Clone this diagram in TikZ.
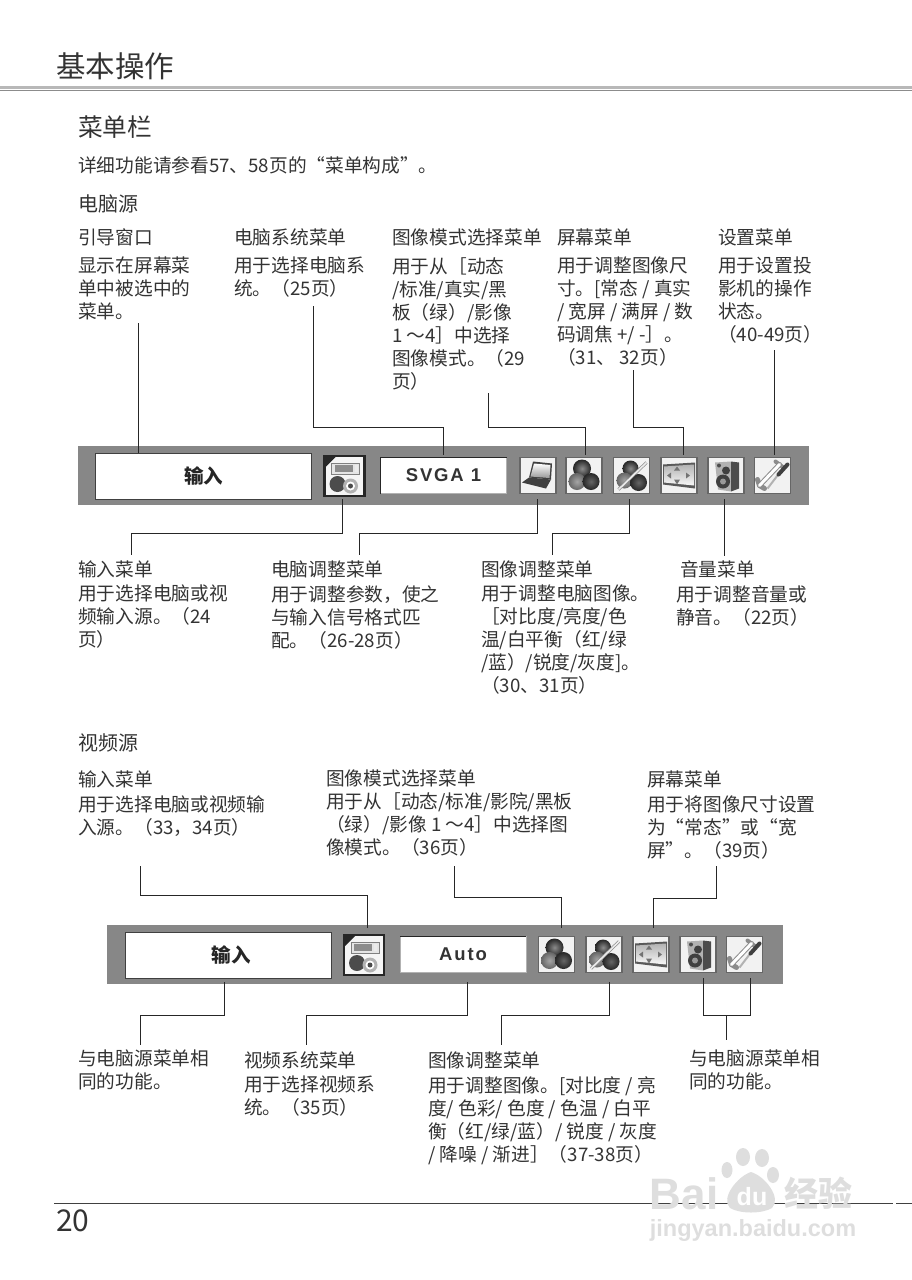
\documentclass[tikz,border=0pt]{standalone}
\usepackage{fontspec}
\setmainfont{Noto Sans CJK SC}
\newfontfamily\barfont[LetterSpace=10]{Liberation Sans}
\newfontfamily\markfont{Liberation Sans}

\definecolor{ink}{gray}{0.2}
\definecolor{barcol}{gray}{0.53}
\definecolor{markcol}{gray}{0.87}

\tikzset{
  txt/.style={anchor=north west,inner sep=0pt,yshift=9pt,align=left,text=ink,
    font=\fontsize{18.7}{23}\selectfont,execute at begin node=\strut},
  whitebox/.style={fill=white,draw=black!75,line width=1pt,inner sep=0pt,
    minimum width=#1,minimum height=46pt,font=\fontsize{19.5}{20}\selectfont\bfseries,text=black!85,outer sep=0pt},
  valuebox/.style={fill=white,draw=gray!60,line width=1pt,inner sep=0pt,outer sep=0pt,
    minimum width=126pt,minimum height=36pt,font=\fontsize{18.5}{20}\selectfont\barfont\bfseries,text=black!80},
  iconbox/.style={fill=black!5,draw=black!60,line width=1.5pt,inner sep=0pt,outer sep=3pt,
    minimum width=36pt,minimum height=36pt},
  inbox/.style={fill=black!4,draw=black!85,line width=2.5pt,inner sep=0pt,outer sep=3pt,
    minimum width=40pt,minimum height=40pt},
  conn/.style={draw=black!85,line width=0.8pt},
  softball/.style={shading=radial,inner color=black!#1,outer color=black!85},
  pics/ballsicon/.style={code={
    \shade[softball=45] (-2,-7) circle (9pt);
    \shade[inner color=black!35,outer color=black!60] (-7,6) circle (8.5pt);
    \shade[softball=60] (7,6) circle (8.5pt);
  }},
  pics/slashicon/.style={code={
    \shade[softball=45] (-1,-7) circle (8pt);
    \shade[inner color=black!35,outer color=black!60] (-7,5) circle (8pt);
    \shade[softball=60] (7,7) circle (8.5pt);
    \draw[black!45,line width=3pt] (-13,14) -- (15,-13);
    \draw[black!8,line width=1.6pt] (-13,14) -- (15,-13);
  }},
  pics/laptopicon/.style={code={
    \fill[black!75] (-5,-14) -- (14,-12) -- (13,4) -- (-9,2) -- cycle;
    \shade[top color=white,bottom color=black!40] (-4,-12) -- (12.5,-10.5) -- (11.5,2.5) -- (-7.5,1) -- cycle;
    \fill[black!75] (-9,2) -- (13,4) -- (8,13) -- (-16,7) -- cycle;
  }},
  pics/screenicon/.style={code={
    \fill[black!65] (-16,-11) -- (16,-13) -- (16,13) -- (-16,9) -- cycle;
    \shade[top color=black!30,bottom color=black!3] (-15,-9) -- (15,-11) -- (15,10) -- (-15,7) -- cycle;
    \fill[black!55] (-2,-9) -- (-5,-5) -- (1,-5) -- cycle;
    \fill[black!55] (-2,9) -- (-5,4) -- (1,4) -- cycle;
    \fill[black!55] (-12,0) -- (-8,-3) -- (-8,3) -- cycle;
    \fill[black!55] (11,0) -- (7,-3) -- (7,3) -- cycle;
  }},
  pics/speakericon/.style={code={
    \fill[black!30] (-11,-13) -- (5,-14) -- (5,16) -- (-8,14) -- cycle;
    \fill[black!70] (5,-14) -- (13,-13) -- (13,13) -- (5,16) -- cycle;
    \fill[black!70] (-7,-10) circle (2pt);
    \fill[black!75] (0,-5) circle (4pt);
    \fill[black!75] (-3,6) circle (7pt);
    \fill[black!40] (-3,6) circle (3pt);
  }},
  pics/wrenchicon/.style={code={
    \draw[black!45,line width=5pt,line cap=round] (-13,10) -- (7,-11);
    \draw[black!45,line width=5pt,line cap=round] (-13,10) -- (-15,4) (-13,10) -- (-8,13);
    \draw[black!45,line width=4pt,line cap=round] (7,-11) -- (3,-14) (7,-11) -- (11,-8);
    \draw[white,line width=3pt,line cap=round] (-13,10) -- (7,-11);
    \draw[black!30,line width=2pt] (-5,13) -- (5,0);
    \draw[black!75,line width=4pt,line cap=round] (6,-1) -- (15,-11);
  }},
  pics/inputicon/.style={code={
    \fill[black!85] (-19,-19) -- (-9,-19) -- (-19,-9) -- cycle;
    \draw[black!50,fill=black!10,line width=1pt] (-13,-13) rectangle (15,-2);
    \fill[black!45] (-10,-11) rectangle (8,-4);
    \fill[black!8] (10,-11) rectangle (13,-4);
    \fill[black!70] (-7,8) circle (8pt);
    \fill[black!30] (6,10) circle (7.5pt);
    \fill[white] (6,10) circle (4.5pt);
    \fill[black!70] (6,10) circle (2.5pt);
  }}
}

\begin{document}
\begin{tikzpicture}[x=1pt,y=-1pt]
  \useasboundingbox (0,0) rectangle (912,1280);

  % HEADER
  \node[txt,font=\fontsize{29.5}{32}\selectfont,yshift=7pt] (title) at (56,69) {基本操作};
  \fill[black!28] (0,86) rectangle (912,89);
  \fill[black!45] (0,90.3) rectangle (912,91);
  \node[txt,font=\fontsize{24.7}{28}\selectfont,yshift=3pt] (menubar) at (78,128) {菜单栏};
  \node[txt] (intro) at (78,165) {详细功能请参看57、58页的“菜单构成”。};
  \node[txt,font=\fontsize{20}{23}\selectfont] (pcsrc) at (78,203) {电脑源};

  % PC LABELS, TOP
  \node[txt] (guidehead) at (78,237) {引导窗口};
  \node[txt] (guidetext) at (78,266) {显示在屏幕菜\\单中被选中的\\菜单。};
  \node[txt] (syshead) at (234,237) {电脑系统菜单};
  \node[txt] (systext) at (234,266) {用于选择电脑系\\统。（25页）};
  \node[txt] (modehead) at (392,237) {图像模式选择菜单};
  \node[txt] (modetext) at (392,266) {用于从［动态\\/标准/真实/黑\\板（绿）/影像\\ 1 ～4］中选择\\图像模式。（29\\页）};
  \node[txt] (screenhead) at (557,237) {屏幕菜单};
  \node[txt] (screentext) at (557,266) {用于调整图像尺\\寸。[常态 / 真实\\/ 宽屏 / 满屏 / 数\\码调焦 +/ -］。\\（31、 32页）};
  \node[txt] (sethead) at (718,237) {设置菜单};
  \node[txt] (settext) at (718,266) {用于设置投\\影机的操作\\状态。\\（40-49页）};

  % PC BAR
  \fill[barcol] (78,446) rectangle (809,505);
  \node[whitebox=216pt] (pcname) at (203.5,476) {输入};
  \node[inbox] (pcin) at (344.5,476) {};
  \node[valuebox] (pcval) at (443.5,475.5) {SVGA 1};
  \draw[black!85,line width=1pt] (pcval.south west) |- (pcval.north east);
  \node[iconbox] (pclap) at (538,475.5) {};
  \node[iconbox] (pcmode) at (584,475.5) {};
  \node[iconbox] (pcimg) at (631.5,475.5) {};
  \node[iconbox] (pcscr) at (679,475.5) {};
  \node[iconbox] (pcvol) at (726,475.5) {};
  \node[iconbox] (pcset) at (772.5,475.5) {};
  \pic at (pcin.center) {inputicon};
  \pic at (pclap.center) {laptopicon};
  \pic at (pcmode.center) {ballsicon};
  \pic at (pcimg.center) {slashicon};
  \pic at (pcscr.center) {screenicon};
  \pic at (pcvol.center) {speakericon};
  \pic at (pcset.center) {wrenchicon};

  % PC ARROWS
  \coordinate (guideend) at (138,323);
  \coordinate (sysend) at (313,306);
  \coordinate (modeend) at (488,393);
  \coordinate (screenend) at (633,370);
  \coordinate (setend) at (774,350);
  \draw[conn] (guideend) -- (guideend |- pcname.north);
  \draw[conn] ([yshift=3pt]pcval.north) -- ++(0,-27) -| (sysend);
  \draw[conn] ([xshift=1pt]pcmode.north) -- ++(0,-27) -| (modeend);
  \draw[conn] ([xshift=4pt]pcscr.north) -- ++(0,-27) -| (screenend);
  \draw[conn] ([xshift=1.5pt]pcset.north) -- (setend);

  \coordinate (inend) at (131,555);
  \coordinate (lapend) at (359,555);
  \coordinate (imgend) at (552,555);
  \coordinate (volend) at (724,556);
  \draw[conn] ([xshift=-2pt]pcin.south) -- ++(0,34) -| (inend);
  \draw[conn] ([xshift=-1pt,yshift=-2.5pt]pclap.south) -- ++(0,34) -| (lapend);
  \draw[conn] ([xshift=-1.8pt,yshift=-2.5pt]pcimg.south) -- ++(0,34) -| (imgend);
  \draw[conn] ([xshift=-2pt,yshift=-2.5pt]pcvol.south) -- (volend);

  % PC LABELS, BOTTOM
  \node[txt] (inhead) at (78,569) {输入菜单};
  \node[txt] (intext) at (78,594) {用于选择电脑或视\\频输入源。（24\\页）};
  \node[txt] (laphead) at (271,569) {电脑调整菜单};
  \node[txt] (laptext) at (271,594) {用于调整参数，使之\\与输入信号格式匹\\配。（26-28页）};
  \node[txt] (imghead) at (481,569) {图像调整菜单};
  \node[txt] (imgtext) at (481,594) {用于调整电脑图像。\\［对比度/亮度/色\\温/白平衡（红/绿\\/蓝）/锐度/灰度]。\\（30、31页）};
  \node[txt] (volhead) at (680,569) {音量菜单};
  \node[txt] (voltext) at (676,594) {用于调整音量或\\静音。（22页）};

  % VIDEO LABELS, TOP
  \node[txt,font=\fontsize{20}{23}\selectfont] (vidsrc) at (78,742) {视频源};
  \node[txt] (vinhead) at (78,779) {输入菜单};
  \node[txt] (vintext) at (78,805) {用于选择电脑或视频输\\入源。（33，34页）};
  \node[txt] (vmodehead) at (326,778) {图像模式选择菜单};
  \node[txt] (vmodetext) at (326,801) {用于从［动态/标准/影院/黑板\\（绿）/影像 1 ～4］中选择图\\像模式。（36页）};
  \node[txt] (vscrhead) at (647,779) {屏幕菜单};
  \node[txt] (vscrtext) at (647,805) {用于将图像尺寸设置\\为“常态”或“宽\\屏”。（39页）};

  % VIDEO BAR
  \fill[barcol] (107,925) rectangle (783,984);
  \node[whitebox=206pt] (vname) at (228,955) {\hspace{6pt}输入};
  \node[inbox] (vin) at (364,955) {};
  \node[valuebox] (vval) at (463,954.5) {Auto};
  \draw[black!85,line width=1pt] (vval.north west) -- (vval.north east);
  \node[iconbox] (vmode) at (556.5,954.5) {};
  \node[iconbox] (vimg) at (604,954.5) {};
  \node[iconbox] (vscr) at (651,954.5) {};
  \node[iconbox] (vvol) at (698,954.5) {};
  \node[iconbox] (vset) at (744.5,954.5) {};
  \pic at (vin.center) {inputicon};
  \pic at (vmode.center) {ballsicon};
  \pic at (vimg.center) {slashicon};
  \pic at (vscr.center) {screenicon};
  \pic at (vvol.center) {speakericon};
  \pic at (vset.center) {wrenchicon};

  % VIDEO ARROWS
  \coordinate (vinend) at (140,866);
  \coordinate (vmodeend) at (454,866);
  \coordinate (vscrend) at (716,866);
  \draw[conn] ([xshift=3pt,yshift=4pt]vin.north) -- ++(0,-33) -| (vinend);
  \draw[conn] ([xshift=5pt,yshift=5.5pt]vmode.north) -- ++(0,-31) -| (vmodeend);
  \draw[conn] ([xshift=2pt,yshift=5.5pt]vscr.north) -- ++(0,-30) -| (vscrend);

  \coordinate (vnameend) at (140,1045);
  \coordinate (vvalend) at (306,1045);
  \coordinate (vimgend) at (501,1045);
  \coordinate (vjoin) at (726,1015);
  \coordinate (vjoinend) at (726,1040);
  \draw[conn] ([xshift=-4pt,yshift=-4pt]vname.south) -- ++(0,33) -| (vnameend);
  \draw[conn] ([xshift=4pt,yshift=-9.5pt]vval.south) -- ++(0,33) -| (vvalend);
  \draw[conn] ([xshift=5pt,yshift=-6.5pt]vimg.south) -- ++(0,33) -| (vimgend);
  \draw[conn] ([xshift=5.6pt,yshift=-2.5pt]vvol.south) |- (vjoin) -| ([xshift=6pt,yshift=-2.5pt]vset.south);
  \draw[conn] (vjoin) -- (vjoinend);

  % VIDEO LABELS, BOTTOM
  \node[txt] (samea) at (78,1059) {与电脑源菜单相\\同的功能。};
  \node[txt] (vvalhead) at (244,1060) {视频系统菜单};
  \node[txt] (vvaltext) at (244,1085) {用于选择视频系\\统。（35页）};
  \node[txt] (vimghead) at (428,1060) {图像调整菜单};
  \node[txt] (vimgtext) at (428,1085) {用于调整图像。[对比度 / 亮\\度/ 色彩/ 色度 / 色温 / 白平\\衡（红/绿/蓝）/ 锐度 / 灰度\\/ 降噪 / 渐进］（37-38页）};
  \node[txt] (sameb) at (689,1059) {与电脑源菜单相\\同的功能。};

  % FOOTER
  \draw[black!75,line width=1pt] (54,1203) -- (893,1203);
  \draw[black!75,line width=1pt] (896,1203) -- (912,1203);
  \node[txt,font=\fontsize{30}{32}\selectfont,yshift=8pt] (pagenum) at (56,1226) {20};

  % WATERMARK
  \fill[markcol] (727,1170) ellipse (5.5pt and 8pt);
  \fill[markcol] (743,1157) ellipse (7pt and 9pt);
  \fill[markcol] (762,1158) ellipse (7pt and 9pt);
  \fill[markcol] (773,1175) ellipse (6pt and 8pt);
  \fill[markcol] (751,1172) .. controls (765,1176) and (782,1198) .. (772,1208) .. controls (762,1214) and (740,1214) .. (730,1208) .. controls (720,1198) and (738,1176) .. (751,1172);
  \node[inner sep=0pt,text=white,font=\fontsize{25}{26}\selectfont\markfont\bfseries] (markdu) at (752,1197) {du};
  \node[inner sep=0pt,text=markcol,font=\fontsize{44}{46}\selectfont\markfont\bfseries] (markbai) at (684,1194) {Bai};
  \node[inner sep=0pt,text=markcol,font=\fontsize{34}{36}\selectfont\bfseries] (markjy) at (818,1193) {经验};
  \node[inner sep=0pt,text=markcol,font=\fontsize{23.5}{27}\selectfont\markfont\bfseries] (markurl) at (753,1230) {jingyan.baidu.com};
\end{tikzpicture}
\end{document}
